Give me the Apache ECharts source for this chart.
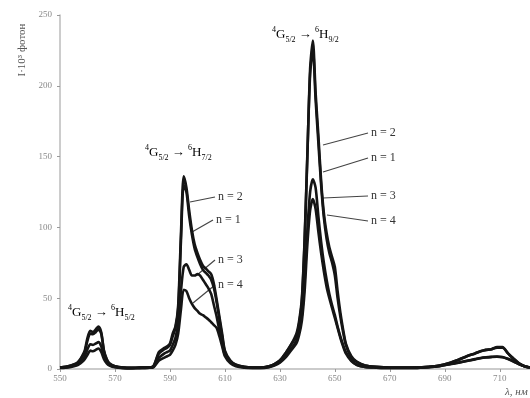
<!DOCTYPE html>
<html>
<head>
<meta charset="utf-8">
<script src="https://cdn.jsdelivr.net/npm/echarts@6/dist/echarts.min.js"></script>
<style>
  html, body { margin: 0; padding: 0; background: #fff; }
  #chart { width: 530px; height: 398px; }
</style>
</head>
<body>
<div id="chart"></div>
<script>
// wavelength grid, nm (denser around the peaks)
const wavelength = [
  550, 552, 554, 556, 557, 558, 559, 560, 561, 562, 563, 564, 565, 566, 567, 568, 570,
  573, 576, 579, 582, 584, 586, 588,
  589, 590, 591, 592, 593, 594, 595, 596, 597, 598, 599, 600, 601, 602, 603, 604, 605, 606, 607, 608, 609, 610, 612,
  614, 617, 620, 623, 626, 628, 630, 632, 634, 636,
  637, 638, 639, 640, 641, 642, 643, 644, 645, 646, 647, 648, 649, 650, 651, 652, 653, 654, 656,
  658, 661, 665, 670, 675, 680, 684, 688, 692, 695, 698, 701, 703, 705, 707, 709, 711, 713, 715, 717, 719, 721
];

// intensity, I·10^3 photons
const n2 = [
  1, 1.5, 2.5, 4, 6, 9, 13, 22, 27, 26, 28, 30, 26, 13, 7, 4, 2,
  1, 0.8, 1, 1, 2, 12, 15,
  16, 18, 25, 30, 45, 95, 136, 128, 112, 98, 88, 82, 77, 73, 71, 69, 67, 60, 49, 37, 25, 13, 6,
  3, 1.5, 1, 1, 2, 3.5, 6, 11, 17, 23,
  32, 48, 90, 150, 212, 232, 195, 165, 133, 110, 96, 86, 79, 72, 55, 40, 28, 18, 9,
  5, 2.5, 1.5, 1, 1, 1, 1.5, 2.5, 4.5, 6.5, 9, 11, 12.5, 13.5, 14, 15.5, 15.5, 11, 7.5, 4, 2, 1
];
const n1 = [
  1, 1.5, 2.5, 4, 5.5, 8.5, 12, 20, 25, 24.5, 26, 28, 25, 12.5, 6.5, 3.5, 2,
  1, 0.8, 1, 1, 2, 11, 14,
  15, 17, 23, 29, 42, 90, 130, 125, 108, 95, 85, 79, 74, 70, 68, 66, 63, 57, 47, 35, 23, 12, 5,
  3, 1.5, 1, 1, 2, 3.5, 6, 11, 17, 25,
  34, 50, 92, 152, 208, 226, 190, 160, 130, 107, 92, 82, 75, 66, 50, 37, 26, 17, 8,
  5, 2.5, 1.5, 1, 1, 1, 1.5, 2.5, 4.5, 6.5, 9, 11, 12.5, 13.5, 14, 15, 15, 11, 7, 4, 2, 1
];
const n3 = [
  1, 1.2, 2, 3, 4, 6, 9, 14, 17.5, 17, 18, 19, 16, 9, 5, 3, 1.5,
  0.8, 0.6, 0.8, 1, 1.5, 8, 11,
  12, 13, 17, 22, 32, 55, 72, 74, 70, 66, 66, 67, 66, 63, 60, 57, 53, 45, 37, 27, 18, 10, 5,
  2.5, 1.2, 0.8, 0.8, 1.5, 3, 5, 9, 14, 20,
  27, 38, 62, 98, 125, 134, 128, 108, 90, 75, 63, 53, 45, 38, 30, 23, 17, 12, 6,
  3, 1.5, 1, 0.7, 0.7, 0.8, 1.2, 2, 3.5, 4.5, 5.8, 7, 7.8, 8.3, 8.6, 8.8, 8.5, 7.2, 5.5, 3.5, 2, 1
];
const n4 = [
  0.8, 1, 1.5, 2.5, 3.5, 5, 7, 10, 13, 12.5, 13.5, 14.5, 12, 7, 4, 2.5, 1.2,
  0.6, 0.5, 0.6, 0.8, 1.2, 6, 8,
  9, 10, 13, 17, 25, 42, 56, 55, 50, 46, 43, 41, 39, 38, 36.5, 35, 33, 31, 29, 23, 16, 9, 4,
  2, 1, 0.7, 0.7, 1.3, 2.5, 4.5, 8, 13, 18,
  24, 34, 55, 88, 112, 120, 113, 97, 82, 69, 58, 50, 43, 36, 29, 22, 16, 11, 5.5,
  2.8, 1.4, 1, 0.7, 0.7, 0.8, 1.2, 2, 3.4, 4.4, 5.6, 6.8, 7.6, 8.1, 8.4, 8.6, 8.3, 7, 5.3, 3.4, 2, 1
];

const xTicks = [550, 570, 590, 610, 630, 650, 670, 690, 710];
const seriesNames = ['n = 1', 'n = 2', 'n = 3', 'n = 4'];
const seriesValues = [n1, n2, n3, n4];

const serif = '"Liberation Serif", "DejaVu Serif", serif';

const chart = echarts.init(document.getElementById('chart'));

const transRich = {
  m: { fontFamily: serif, fontSize: 13, color: '#333', lineHeight: 18 },
  sup: { fontFamily: serif, fontSize: 8, color: '#333', lineHeight: 8, verticalAlign: 'top' },
  sub: { fontFamily: serif, fontSize: 8, color: '#333', lineHeight: 8, verticalAlign: 'bottom' }
};

function transition(x, y, j) {
  return {
    type: 'text', left: x, top: y,
    style: {
      text: '{sup|4}{m|G}{sub|5/2}{m| → }{sup|6}{m|H}{sub|' + j + '}',
      rich: transRich
    }
  };
}

function pointer(x1, y1, x2, y2, label) {
  return [
    { type: 'line', shape: { x1: x1, y1: y1, x2: x2, y2: y2 }, style: { stroke: '#444', lineWidth: 1.2 } },
    { type: 'text', x: x2 + 3, y: y2, style: { text: label, font: '12px ' + serif, fill: '#333', textVerticalAlign: 'middle' } }
  ];
}

chart.setOption({
  animation: false,
  grid: { left: 60, right: 0, top: 15, bottom: 29, containLabel: false },
  xAxis: {
    type: 'value', min: 550, max: 721,
    axisLine: { lineStyle: { color: '#bbb', width: 1.5 } },
    axisTick: { show: true, customValues: xTicks, length: 3, lineStyle: { color: '#999' } },
    axisLabel: { customValues: xTicks, color: '#888', fontSize: 9, fontFamily: serif, margin: 5 },
    splitLine: { show: false }
  },
  yAxis: {
    type: 'value', min: 0, max: 250, interval: 50,
    axisLine: { show: true, lineStyle: { color: '#bbb', width: 1.5 } },
    axisTick: { show: true, length: 3, lineStyle: { color: '#999' } },
    axisLabel: { color: '#888', fontSize: 9, fontFamily: serif, margin: 8 },
    splitLine: { show: false }
  },
  series: seriesValues.map((vals, i) => ({
    name: seriesNames[i],
    type: 'line',
    data: wavelength.map((w, k) => [w, vals[k]]),
    showSymbol: false,
    smooth: 0.25,
    lineStyle: { color: '#151515', width: 2.6 },
    z: 2
  })),
  graphic: [
    transition(68, 304, '5/2'),
    transition(145, 144, '7/2'),
    transition(272, 26, '9/2'),
    ...pointer(190, 202, 215, 197, 'n = 2'),
    ...pointer(192, 232, 213, 220, 'n = 1'),
    ...pointer(197, 275, 215, 260, 'n = 3'),
    ...pointer(193, 303, 215, 285, 'n = 4'),
    ...pointer(323, 145, 368, 133, 'n = 2'),
    ...pointer(323, 172, 368, 158, 'n = 1'),
    ...pointer(323, 198, 368, 196, 'n = 3'),
    ...pointer(327, 215, 368, 221, 'n = 4'),
    {
      type: 'text', x: 22, y: 50, rotation: Math.PI / 2,
      style: { text: 'I·10³ фотон', font: '11px ' + serif, fill: '#555', textAlign: 'center', textVerticalAlign: 'middle' }
    },
    {
      type: 'text', x: 505, y: 392,
      style: { text: 'λ, нм', font: 'italic 11px ' + serif, fill: '#555', textVerticalAlign: 'middle' }
    }
  ]
});
</script>
</body>
</html>
